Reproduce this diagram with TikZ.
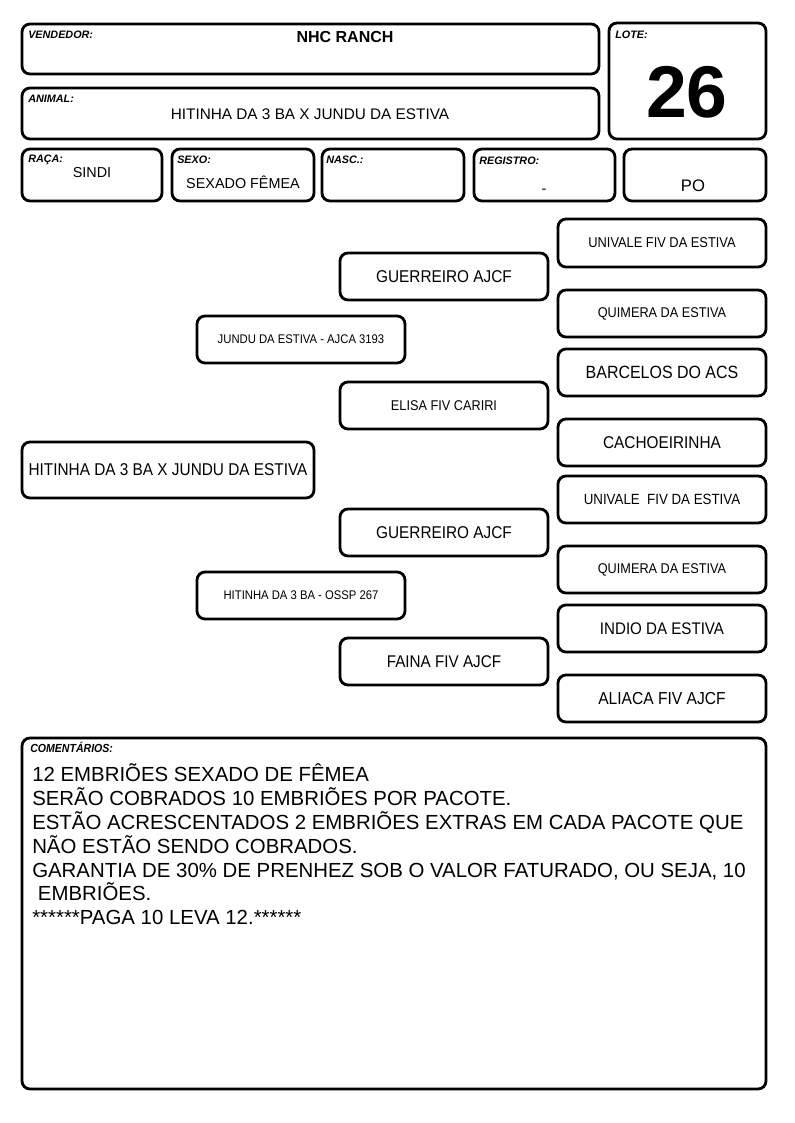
\documentclass[tikz,border=0pt]{standalone}
\usepackage{fontspec}
\setmainfont{Liberation Sans}
\newfontfamily\nar[FakeStretch=0.9]{Liberation Sans}
\newcommand\fs[1]{\fontsize{#1}{#1}\selectfont}
\newcommand\bx[7][]{\node[frame,#1,minimum width={(#5-#3)*0.75pt},minimum height={(#6-#4)*0.75pt}] (#2) at ({(#3+#5)/2},{(#4+#6)/2}) {#7};}
\begin{document}
\begin{tikzpicture}[x=0.75pt,y=-0.75pt,
  frame/.style={draw, line width=2.1pt, rounded corners=6pt, inner sep=0pt, align=center},
  lbl/.style={font=\bfseries\itshape\fs{8.1}, anchor=base west, inner sep=0pt},
  val/.style={anchor=base, inner sep=0pt},
  ped/.style={font=\nar\fs{#1}},
  cline/.style={anchor=base west, inner sep=0pt, font=\fs{15.3}}]
\useasboundingbox (0,0) rectangle (794,1123);
% header
\bx{vend}{22}{24}{599}{74}{}
\bx{lote}{609}{23}{766}{139}{}
\bx{animal}{22}{88}{599}{139}{}
\bx{raca}{22}{149}{162}{201}{}
\bx{sexo}{172}{149}{314}{201}{}
\bx{nasc}{322}{149}{464}{201}{}
\bx{reg}{474}{149}{615}{201}{}
\bx{po}{624}{149}{766}{201}{}
\node[lbl] (lvend) at (28,39) {VENDEDOR:};
\node[lbl] (llote) at (615,39) {LOTE:};
\node[lbl] (lanimal) at (28,103) {ANIMAL:};
\node[lbl] (lraca) at (28,163) {RAÇA:};
\node[lbl] (lsexo) at (177,164) {SEXO:};
\node[lbl] (lnasc) at (326,164) {NASC.:};
\node[lbl] (lreg) at (479,165) {REGISTRO:};
\node[val, font=\bfseries\fs{12}] (vendv) at (345,43) {NHC RANCH};
\node[val, font=\fs{11.5}] (animalv) at (310,120) {HITINHA DA 3 BA X JUNDU DA ESTIVA};
\node[val, font=\bfseries\fs{55}] (lotev) at (687,118) {26};
\node[val, font=\fs{10.8}] (racav) at (92,178) {SINDI};
\node[val, font=\fs{10.8}] (sexov) at (243,189) {SEXADO FÊMEA};
\node[val, font=\fs{10.8}] (regv) at (544,194) {-};
\node[val, font=\fs{12.5}] (pov) at (693,192) {PO};
% pedigree generation 3
\bx[ped=10.7]{u1}{558}{219}{766}{267}{UNIVALE FIV DA ESTIVA}
\bx[ped=10.6]{q1}{558}{290}{766}{337}{QUIMERA DA ESTIVA}
\bx[ped=13.3]{b1}{558}{349}{766}{396}{BARCELOS DO ACS}
\bx[ped=12.8]{c1}{558}{419}{766}{466}{CACHOEIRINHA}
\bx[ped=11.1]{u2}{558}{476}{766}{523}{UNIVALE \ FIV DA ESTIVA}
\bx[ped=10.6]{q2}{558}{546}{766}{593}{QUIMERA DA ESTIVA}
\bx[ped=12.6]{i1}{558}{605}{766}{652}{INDIO DA ESTIVA}
\bx[ped=13]{a1}{558}{675}{766}{722}{ALIACA FIV AJCF}
% generation 2
\bx[ped=12.8]{g1}{340}{253}{548}{300}{GUERREIRO AJCF}
\bx[ped=10.6]{e1}{340}{382}{548}{429}{ELISA FIV CARIRI}
\bx[ped=12.8]{g2}{340}{509}{548}{556}{GUERREIRO AJCF}
\bx[ped=12.7]{f1}{340}{638}{548}{685}{FAINA FIV AJCF}
% generation 1
\bx[ped=9.4]{j1}{197}{316}{405}{363}{JUNDU DA ESTIVA - AJCA 3193}
\bx[ped=9.4]{h1}{197}{572}{405}{619}{HITINHA DA 3 BA - OSSP 267}
% animal
\bx[ped=12.8]{main}{22}{442}{314}{498}{HITINHA DA 3 BA X JUNDU DA ESTIVA}
% comments
\bx{com}{22}{738}{766}{1089}{}
\node[lbl, font=\nar\bfseries\itshape\fs{8.8}] (lcom) at (30,752) {COMENTÁRIOS:};
\node[cline] (cl1) at (32,781) {12 EMBRIÕES SEXADO DE FÊMEA};
\node[cline] (cl2) at (32,805) {SERÃO COBRADOS 10 EMBRIÕES POR PACOTE.};
\node[cline] (cl3) at (32,829) {ESTÃO ACRESCENTADOS 2 EMBRIÕES EXTRAS EM CADA PACOTE QUE};
\node[cline] (cl4) at (32,853) {NÃO ESTÃO SENDO COBRADOS.};
\node[cline] (cl5) at (32,877) {GARANTIA DE 30\% DE PRENHEZ SOB O VALOR FATURADO, OU SEJA, 10};
\node[cline] (cl6) at (32,900) {\hspace{0.28em}EMBRIÕES.};
\node[cline] (cl7) at (32,924) {******PAGA 10 LEVA 12.******};
\end{tikzpicture}
\end{document}
